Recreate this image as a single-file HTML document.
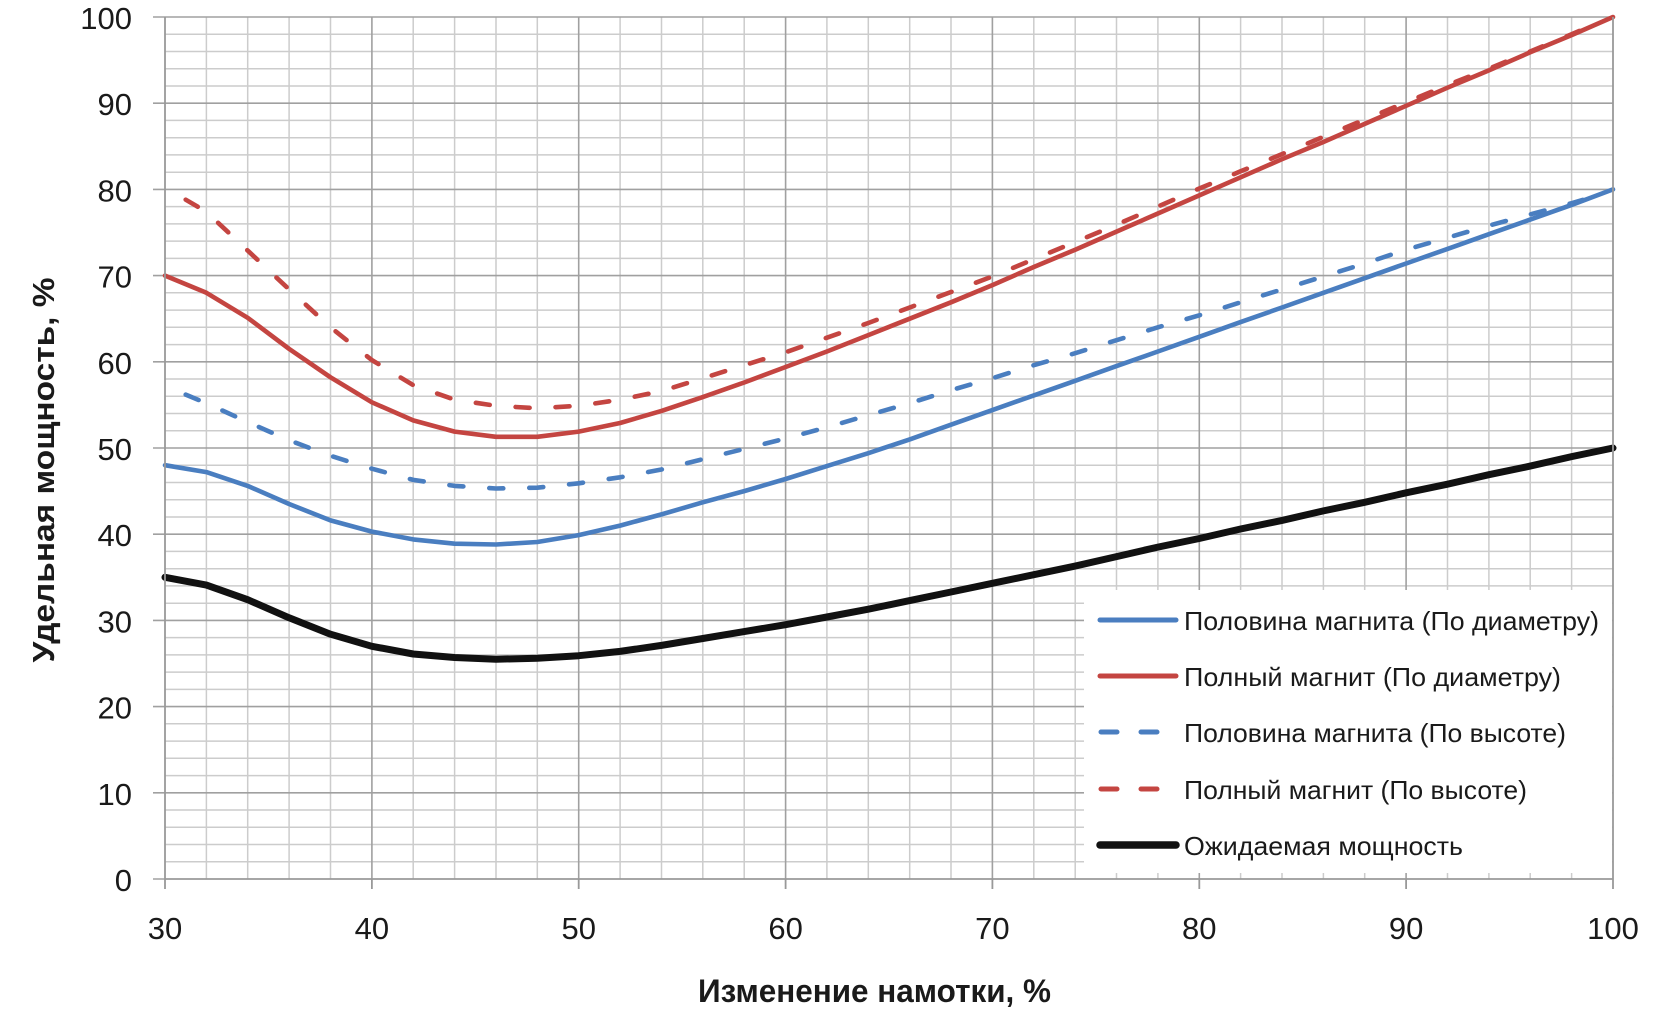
<!DOCTYPE html>
<html><head><meta charset="utf-8"><style>
html,body{margin:0;padding:0;background:#fff;}
svg{display:block;}
text{font-family:"Liberation Sans",sans-serif;fill:#1a1a1a;}
</style></head><body>
<svg width="1654" height="1018" viewBox="0 0 1654 1018" xmlns="http://www.w3.org/2000/svg">
<rect x="0" y="0" width="1654" height="1018" fill="#fff"/>
<!-- minor gridlines -->
<g stroke="#cccccc" stroke-width="1.5" fill="none">
<path d="M206.4 17V879M247.7 17V879M289.1 17V879M330.5 17V879M413.2 17V879M454.6 17V879M496 17V879M537.3 17V879M620.1 17V879M661.5 17V879M702.8 17V879M744.2 17V879M826.9 17V879M868.3 17V879M909.7 17V879M951 17V879M1033.8 17V879M1075.2 17V879M1116.5 17V879M1157.9 17V879M1240.6 17V879M1282 17V879M1323.4 17V879M1364.7 17V879M1447.5 17V879M1488.9 17V879M1530.2 17V879M1571.6 17V879"/>
<path d="M165 861.8H1613M165 844.5H1613M165 827.3H1613M165 810H1613M165 775.6H1613M165 758.3H1613M165 741.1H1613M165 723.8H1613M165 689.4H1613M165 672.1H1613M165 654.9H1613M165 637.6H1613M165 603.2H1613M165 585.9H1613M165 568.7H1613M165 551.4H1613M165 517H1613M165 499.7H1613M165 482.5H1613M165 465.2H1613M165 430.8H1613M165 413.5H1613M165 396.3H1613M165 379H1613M165 344.6H1613M165 327.3H1613M165 310.1H1613M165 292.8H1613M165 258.4H1613M165 241.1H1613M165 223.9H1613M165 206.6H1613M165 172.2H1613M165 154.9H1613M165 137.7H1613M165 120.4H1613M165 86H1613M165 68.7H1613M165 51.5H1613M165 34.2H1613"/>
</g>
<!-- major gridlines -->
<g stroke="#a0a0a0" stroke-width="1.6" fill="none">
<path d="M371.9 17V879M578.7 17V879M785.6 17V879M992.4 17V879M1199.3 17V879M1406.1 17V879"/>
<path d="M153 792.8H1613M153 706.6H1613M153 620.4H1613M153 534.2H1613M153 448H1613M153 361.8H1613M153 275.6H1613M153 189.4H1613M153 103.2H1613M153 17H1613M153 879H165"/>
</g>

<!-- series -->
<g fill="none" stroke-linejoin="round">
<polyline stroke="#111111" stroke-width="7" stroke-linecap="round" points="165,577.3 206.4,585.1 247.7,599.7 289.1,617.8 330.5,634.2 371.9,646.3 413.2,654 454.6,657.5 496,659.2 537.3,658.3 578.7,655.7 620.1,651.4 661.5,645.4 702.8,638.5 744.2,631.6 785.6,624.7 826.9,617 868.3,609.2 909.7,600.6 951,592 992.4,583.3 1033.8,574.7 1075.2,566.1 1116.5,556.6 1157.9,547.1 1199.3,538.5 1240.6,529 1282,520.4 1323.4,510.9 1364.7,502.3 1406.1,492.8 1447.5,484.2 1488.9,474.7 1530.2,466.1 1571.6,456.6 1613,448"/>
<polyline stroke="#4a7ec0" stroke-width="4.6" stroke-linecap="round" points="165,465.2 206.4,472.1 247.7,485.9 289.1,504 330.5,520.4 371.9,531.6 413.2,539.4 454.6,543.7 496,544.5 537.3,542 578.7,535.1 620.1,525.6 661.5,514.4 702.8,502.3 744.2,491.1 785.6,479 826.9,466.1 868.3,453.2 909.7,439.4 951,424.7 992.4,410.1 1033.8,395.4 1075.2,380.8 1116.5,366.1 1157.9,351.5 1199.3,336.8 1240.6,322.1 1282,307.5 1323.4,292.8 1364.7,278.2 1406.1,263.5 1447.5,248.9 1488.9,234.2 1530.2,219.6 1571.6,204.9 1613,189.4"/>
<polyline stroke="#c44541" stroke-width="4.6" stroke-linecap="round" points="165,275.6 206.4,292.8 247.7,317.8 289.1,348.9 330.5,377.3 371.9,402.3 413.2,420.4 454.6,431.6 496,436.8 537.3,436.8 578.7,431.6 620.1,423 661.5,410.9 702.8,397.1 744.2,382.5 785.6,367 826.9,351.5 868.3,335.1 909.7,318.7 951,302.3 992.4,285.1 1033.8,267 1075.2,249.7 1116.5,231.6 1157.9,213.5 1199.3,195.4 1240.6,177.3 1282,159.2 1323.4,142 1364.7,123.9 1406.1,105.8 1447.5,87.7 1488.9,70.4 1530.2,52.3 1571.6,35.1 1613,17"/>
<polyline stroke="#4a7ec0" stroke-width="4.6" stroke-linecap="round" stroke-dasharray="14 26" points="185.7,394.6 206.4,403.2 247.7,422.1 289.1,440.2 330.5,455.8 371.9,468.7 413.2,479.9 454.6,485.9 496,488.5 537.3,487.7 578.7,483.3 620.1,477.3 661.5,469.5 702.8,459.2 744.2,448.9 785.6,438.5 826.9,427.3 868.3,415.2 909.7,403.2 951,390.2 992.4,378.2 1033.8,365.2 1075.2,353.2 1116.5,340.2 1157.9,327.3 1199.3,315.3 1240.6,302.3 1282,289.4 1323.4,276.5 1364.7,263.5 1406.1,249.7 1447.5,237.7 1488.9,225.6 1530.2,214.4 1571.6,203.2 1592.3,197.2"/>
<polyline stroke="#c44541" stroke-width="4.6" stroke-linecap="round" stroke-dasharray="14 26" points="185.7,199.7 206.4,211.8 247.7,250.6 289.1,289.4 330.5,327.3 371.9,360.1 413.2,385.1 454.6,399.7 496,405.8 537.3,408.3 578.7,405.8 620.1,399.7 661.5,391.1 702.8,378.2 744.2,365.2 785.6,352.3 826.9,337.7 868.3,323 909.7,307.5 951,292 992.4,276.5 1033.8,259.2 1075.2,242 1116.5,224.7 1157.9,206.6 1199.3,188.5 1240.6,171.3 1282,154.1 1323.4,136.8 1364.7,119.6 1406.1,102.3 1447.5,85.1 1488.9,68.7 1530.2,51.5 1571.6,34.2 1603,21"/>
</g>

<!-- legend -->
<rect x="1084" y="590" width="528" height="283" fill="#fff"/>
<g fill="none" stroke-linecap="round">
<line x1="1100" y1="620" x2="1176" y2="620" stroke="#4a7ec0" stroke-width="5"/>
<line x1="1100" y1="676" x2="1176" y2="676" stroke="#c44541" stroke-width="5"/>
<line x1="1101" y1="732" x2="1157" y2="732" stroke="#4a7ec0" stroke-width="5" stroke-dasharray="16 24"/>
<line x1="1101" y1="789" x2="1157" y2="789" stroke="#c44541" stroke-width="5" stroke-dasharray="16 24"/>
<line x1="1100" y1="845" x2="1176" y2="845" stroke="#111111" stroke-width="7.5"/>
</g>
<g font-size="26">
<text x="1184" y="630" textLength="415" lengthAdjust="spacingAndGlyphs">Половина магнита (По диаметру)</text>
<text x="1184" y="686" textLength="377" lengthAdjust="spacingAndGlyphs">Полный магнит (По диаметру)</text>
<text x="1184" y="742" textLength="382" lengthAdjust="spacingAndGlyphs">Половина магнита (По высоте)</text>
<text x="1184" y="799" textLength="343" lengthAdjust="spacingAndGlyphs">Полный магнит (По высоте)</text>
<text x="1184" y="855" textLength="279" lengthAdjust="spacingAndGlyphs">Ожидаемая мощность</text>
</g>

<!-- axes/borders -->
<g stroke="#999999" stroke-width="1.8" fill="none">
<path d="M165 17V889M1613 17V889M165 879H1613M371.9 879V889M578.7 879V889M785.6 879V889M992.4 879V889M1199.3 879V889M1406.1 879V889"/>
</g>

<!-- y tick labels -->
<g font-size="31" text-anchor="end">
<text x="132" y="891">0</text>
<text x="132" y="804.8">10</text>
<text x="132" y="718.6">20</text>
<text x="132" y="632.4">30</text>
<text x="132" y="546.2">40</text>
<text x="132" y="460">50</text>
<text x="132" y="373.8">60</text>
<text x="132" y="287.6">70</text>
<text x="132" y="201.4">80</text>
<text x="132" y="115.2">90</text>
<text x="132" y="29">100</text>
</g>
<!-- x tick labels -->
<g font-size="31" text-anchor="middle">
<text x="165" y="939">30</text>
<text x="371.9" y="939">40</text>
<text x="578.7" y="939">50</text>
<text x="785.6" y="939">60</text>
<text x="992.4" y="939">70</text>
<text x="1199.3" y="939">80</text>
<text x="1406.1" y="939">90</text>
<text x="1613" y="939">100</text>
</g>

<!-- axis titles -->
<text x="874.5" y="1002" font-size="32" font-weight="bold" text-anchor="middle" textLength="353" lengthAdjust="spacingAndGlyphs">Изменение намотки, %</text>
<text transform="translate(54,470) rotate(-90)" x="0" y="0" font-size="31" font-weight="bold" text-anchor="middle" textLength="385" lengthAdjust="spacingAndGlyphs">Удельная мощность, %</text>
</svg>
</body></html>
